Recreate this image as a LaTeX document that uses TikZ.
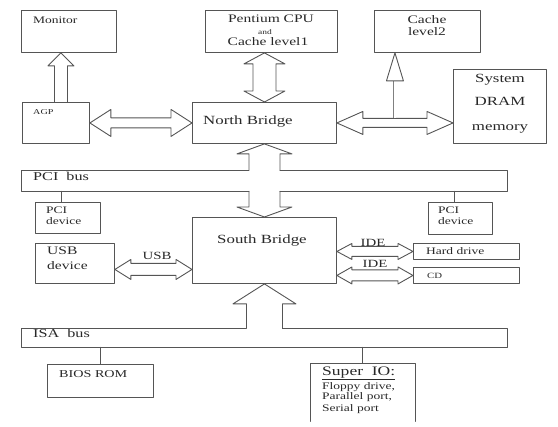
\documentclass[tikz,border=0pt]{standalone}
\usepackage{fontspec}
\setmainfont{Liberation Serif}[FakeStretch=1.35]
\usepackage{tikz}
\usetikzlibrary{positioning,calc}
\definecolor{linegray}{RGB}{85,85,85}
\definecolor{textgray}{RGB}{40,40,40}

% open block arrow: open end #1, tip #2, half shaft #3, half head #4, head length #5
\newcommand{\sglarrow}[5]{%
  \path (#1) coordinate (ar-a) (#2) coordinate (ar-b);
  \path ($(ar-b)!#5!(ar-a)$) coordinate (ar-h);
  \draw[ln] ($(ar-a)!#3!90:(ar-b)$) -- ($(ar-h)!#3!-90:(ar-a)$) -- ($(ar-h)!#4!-90:(ar-a)$)
    -- (ar-b) -- ($(ar-h)!#4!90:(ar-a)$) -- ($(ar-h)!#3!90:(ar-a)$) -- ($(ar-a)!#3!-90:(ar-b)$);
}
% two headed block arrow between #1 and #2
\newcommand{\dblarrow}[5]{%
  \path (#1) coordinate (ar-a) (#2) coordinate (ar-b);
  \path ($(ar-a)!#5!(ar-b)$) coordinate (ar-ha) ($(ar-b)!#5!(ar-a)$) coordinate (ar-hb);
  \draw[ln, fill=white] (ar-a) -- ($(ar-ha)!#4!90:(ar-b)$) -- ($(ar-ha)!#3!90:(ar-b)$)
    -- ($(ar-hb)!#3!-90:(ar-a)$) -- ($(ar-hb)!#4!-90:(ar-a)$) -- (ar-b)
    -- ($(ar-hb)!#4!90:(ar-a)$) -- ($(ar-hb)!#3!90:(ar-a)$) -- ($(ar-ha)!#3!-90:(ar-b)$)
    -- ($(ar-ha)!#4!-90:(ar-b)$) -- cycle;
}

\begin{document}
\begin{tikzpicture}[x=1pt, y=-1pt,
  ln/.style={draw=linegray, line width=0.9pt, line join=round, line cap=round},
  box/.style={ln, inner sep=0pt, anchor=north west},
  bus/.style={inner sep=0pt, anchor=north west, minimum width=486pt},
  lbl/.style={inner sep=0pt, anchor=mid west, text=textgray, font=\fontsize{#1}{#1}\selectfont},
  lbl/.default=10
  ]
  \useasboundingbox (0,0) rectangle (558,427);

  % top row
  \node[box, minimum width=95pt, minimum height=42pt] (monitor) at (21,10) {};
  \node[box, minimum width=132pt, minimum height=42pt] (cpu) at (205,10) {};
  \node[box, minimum width=106pt, minimum height=42pt] (cache) at (374,10) {};
  \node[box, minimum width=67pt, minimum height=41pt] (agp) at (22,102) {};
  \node[box, minimum width=144pt, minimum height=41pt] (nb) at (192,102) {};
  \node[box, minimum width=93pt, minimum height=74pt] (dram) at (453,69) {};

  % PCI level
  \node[bus, minimum height=21pt] (pci) at (21,170) {};
  \node[box, minimum width=65pt, minimum height=31pt] (pcil) at (35,202) {};
  \node[box, minimum width=64pt, minimum height=32pt] (pcir) at (428,202) {};
  \node[box, minimum width=79pt, minimum height=40pt] (usbdev) at (35,243) {};
  \node[box, minimum width=144pt, minimum height=66pt] (sb) at (192,217) {};
  \node[box, minimum width=106pt, minimum height=16pt] (hdd) at (413,243) {};
  \node[box, minimum width=106pt, minimum height=16pt] (cd) at (413,267) {};

  % ISA level
  \node[bus, minimum height=19pt] (isa) at (21,328) {};
  \node[box, minimum width=106pt, minimum height=33pt] (bios) at (47,364) {};
  \node[inner sep=0pt, anchor=north west, minimum width=105pt, minimum height=58pt] (superio) at (310,363) {};
  \draw[ln] (superio.south west) -- (superio.north west) -- (superio.north east) -- (superio.south east);

  % texts
  \node[lbl] (t-monitor) at (33,21) {Monitor};
  \node[lbl=11.5, anchor=mid] (t-cpu1) at (271,20) {Pentium CPU};
  \node[lbl=7, anchor=mid] (t-cpu2) at (265,32) {and};
  \node[lbl=11.5, anchor=mid] (t-cpu3) at (268,43) {Cache level1};
  \node[lbl=11.5, anchor=mid] (t-cache1) at (427,21) {Cache};
  \node[lbl=11.5, anchor=mid] (t-cache2) at (427,33) {level2};
  \node[lbl=12.5, anchor=mid] (t-dram1) at (500,80) {System};
  \node[lbl=12.5, anchor=mid] (t-dram2) at (500,103) {DRAM};
  \node[lbl=12.5, anchor=mid] (t-dram3) at (500,128) {memory};
  \node[lbl=7.5] (t-agp) at (33,112) {AGP};
  \node[lbl=12.5] (t-nb) at (203,122) {North Bridge};
  \node[lbl=12] (t-pci) at (33,178) {PCI\ \ bus};
  \node[lbl] (t-pcil1) at (46,211) {PCI};
  \node[lbl] (t-pcil2) at (46,222) {device};
  \node[lbl] (t-pcir1) at (438,211) {PCI};
  \node[lbl] (t-pcir2) at (438,222) {device};
  \node[lbl=11.5] (t-usb1) at (47,252) {USB};
  \node[lbl=11.5] (t-usb2) at (47,267) {device};
  \node[lbl=12.5] (t-sb) at (217,241) {South Bridge};
  \node[lbl] (t-hdd) at (426,252) {Hard drive};
  \node[lbl=8] (t-cd) at (427,276) {CD};
  \node[lbl=12] (t-isa) at (33,335) {ISA\ \ bus};
  \node[lbl=10.5] (t-bios) at (59,375) {BIOS ROM};
  \node[lbl=13] (t-sio1) at (322,373) {\underline{Super\ \ IO:}};
  \node[lbl] (t-sio2) at (322,387) {Floppy drive,};
  \node[lbl] (t-sio3) at (322,397) {Parallel port,};
  \node[lbl] (t-sio4) at (322,409) {Serial port};

  % buses, open where the big arrows pass
  \draw[ln] ($(pci.north -| nb.south)+(-15.5pt,0)$) -- (pci.north west) -- (pci.south west)
    -- ($(pci.south -| nb.south)+(-15.5pt,0)$)
    ($(pci.south -| nb.south)+(15.5pt,0)$) -- (pci.south east) -- (pci.north east)
    -- ($(pci.north -| nb.south)+(15.5pt,0)$);
  \draw[ln] ($(isa.north -| sb.south)+(-18pt,0)$) -- (isa.north west) -- (isa.south west)
    -- (isa.south east) -- (isa.north east) -- ($(isa.north -| sb.south)+(18pt,0)$);
  \draw[ln] ([xshift=-6.5pt]pcil.north) -- ([xshift=-6.5pt]pcil.north |- pci.south);
  \draw[ln] ([xshift=-6pt]pcir.north) -- ([xshift=-6pt]pcir.north |- pci.south);
  \draw[ln] (bios.north) -- (bios.north |- isa.south);
  \draw[ln] (superio.north) -- (superio.north |- isa.south);

  % block arrows
  \coordinate (agpup) at ($(agp.north)+(5pt,0)$);
  \sglarrow{agpup}{monitor.south -| agpup}{6.5pt}{13pt}{13pt}
  \dblarrow{cpu.south -| nb.north}{nb.north}{11.5pt}{20.5pt}{11pt}
  \dblarrow{agp.east}{nb.west}{5pt}{13.5pt}{21pt}
  \dblarrow{nb.east}{dram.west |- nb.east}{4.5pt}{11.5pt}{26pt}
  \sglarrow{pci.north -| nb.south}{nb.south}{15.5pt}{27.5pt}{10pt}
  \sglarrow{pci.south -| sb.north}{sb.north}{15.5pt}{27.5pt}{10pt}
  \sglarrow{isa.north -| sb.south}{sb.south}{18pt}{31.5pt}{20pt}
  \coordinate (usbl) at ($(usbdev.east)+(0,-6pt)$);
  \dblarrow{usbl}{sb.west |- usbl}{6pt}{10pt}{16pt}
  \dblarrow{sb.east |- hdd.west}{hdd.west}{5pt}{8pt}{15pt}
  \dblarrow{sb.east |- cd.west}{cd.west}{5.5pt}{8.5pt}{15pt}

  % cache level2 branch
  \coordinate (l2) at ($(nb.east)!0.5!(dram.west |- nb.east)$);
  \coordinate (l2head) at ($(cache.south -| l2)+(0,-28pt)$);
  \draw[draw=gray, line width=0.9pt, double=white, double distance=1.2pt] ($(l2)+(0,4.5pt)$) -- (l2head);
  \draw[ln] ($(l2head)+(-8.5pt,0)$) -- (cache.south -| l2) -- ($(l2head)+(8.5pt,0)$) -- cycle;

  % arrow labels
  \node[lbl=11, anchor=mid] (t-usbbus) at (157,257) {USB};
  \node[lbl=11, anchor=mid] (t-ide1) at (373,244) {IDE};
  \node[lbl=11, anchor=mid] (t-ide2) at (375,265) {IDE};
\end{tikzpicture}
\end{document}
